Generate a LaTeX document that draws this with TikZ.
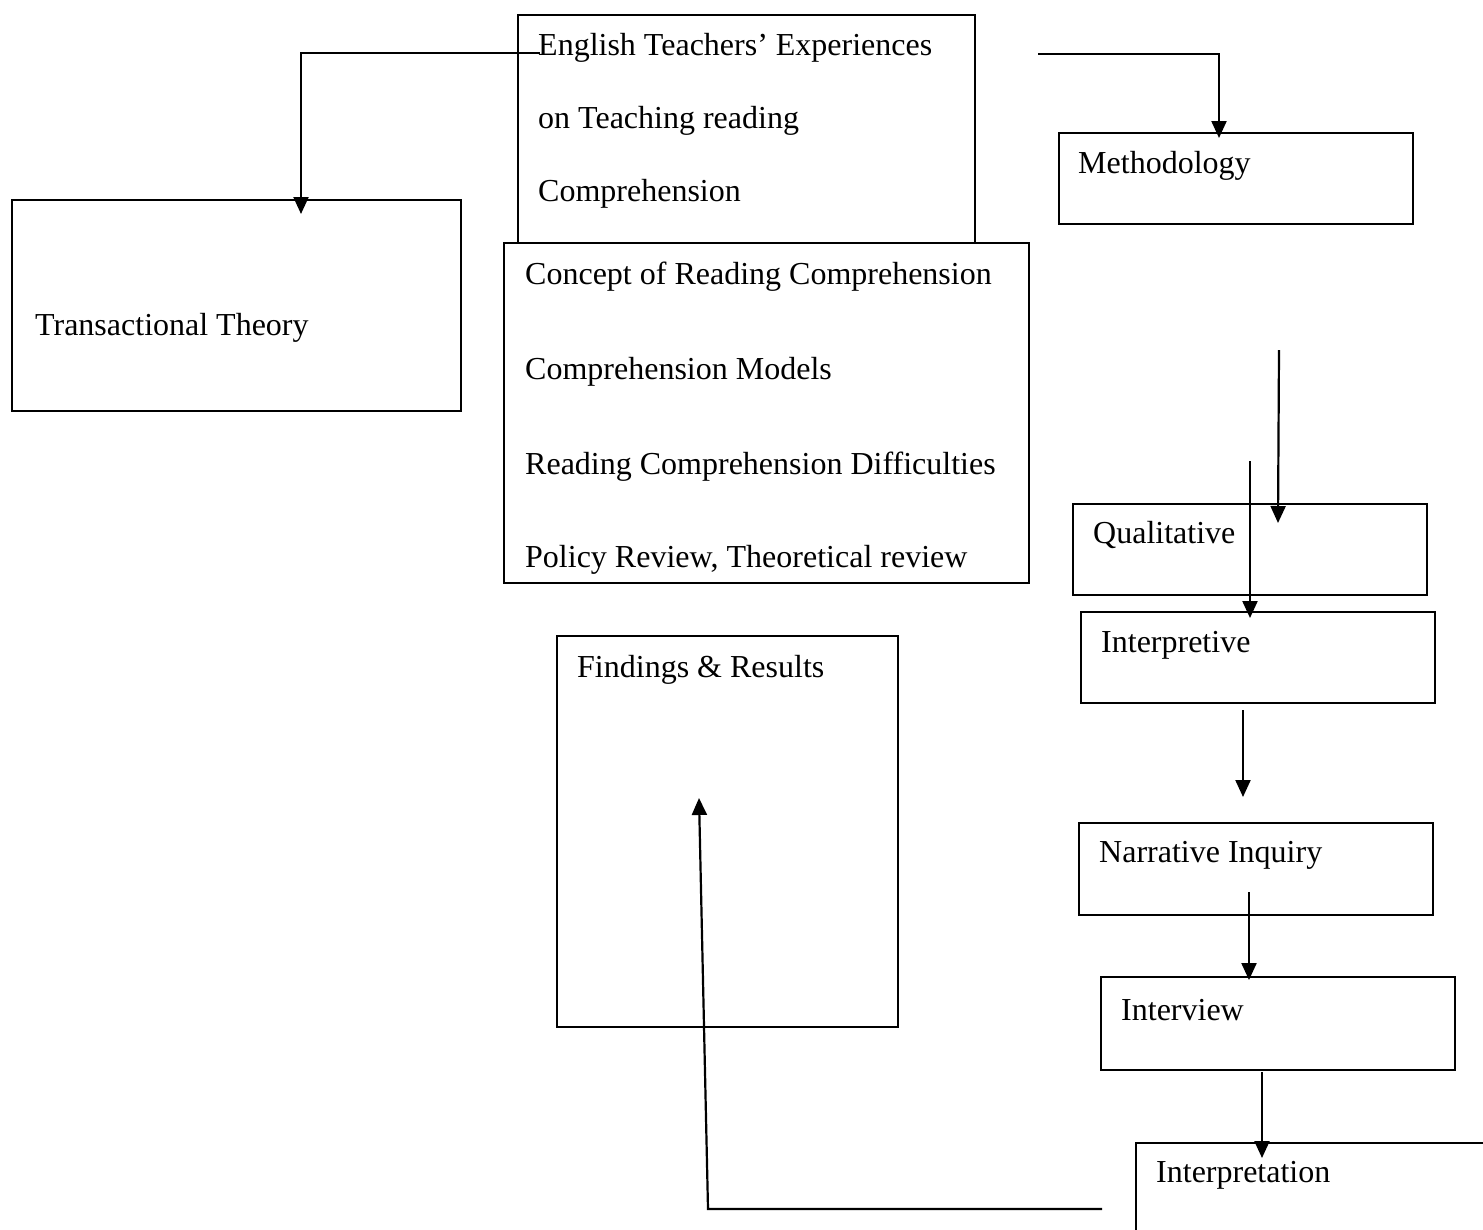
\documentclass[tikz,border=0pt]{standalone}
\usepackage{fontspec}
\setmainfont{Liberation Serif}
\usetikzlibrary{arrows.meta}

\begin{document}
\begin{tikzpicture}[x=1pt, y=-1pt,
    box/.style={draw, line width=2pt, rectangle, anchor=north west, inner sep=0pt},
    txt/.style={anchor=base west, inner sep=0pt, font=\fontsize{32}{38}\selectfont},
    arr/.style={line width=2.2pt, -{Triangle[length=17pt,width=15pt]}}]
			% Page frame
			\clip (0,0) rectangle (1483,1229);
			\useasboundingbox (0,0) rectangle (1483,1229);

			% Boxes
			\node[box, minimum width=457pt, minimum height=240pt] (topic) at (517,14) {};
			\node[box, minimum width=449pt, minimum height=211pt] (theory) at (11,199) {};
			\node[box, fill=white, minimum width=525pt, minimum height=340pt] (review) at (503,242) {};
			\node[box, minimum width=354pt, minimum height=91pt] (method) at (1058,132) {};
			\node[box, minimum width=354pt, minimum height=91pt] (qual) at (1072,503) {};
			\node[box, minimum width=354pt, minimum height=91pt] (interp) at (1080,611) {};
			\node[box, minimum width=354pt, minimum height=92pt] (narr) at (1078,822) {};
			\node[box, minimum width=354pt, minimum height=93pt] (intv) at (1100,976) {};
			\node[box, minimum width=400pt, minimum height=120pt] (interpn) at (1135,1142) {};
			\node[box, minimum width=341pt, minimum height=391pt] (find) at (556,635) {};

			% Texts
			\node[txt] (topic1) at (538,55) {English Teachers’ Experiences};
			\node[txt] (topic2) at (538,128) {on Teaching reading};
			\node[txt] (topic3) at (538,201) {Comprehension};
			\node[txt] (theorytxt) at (35,335) {Transactional Theory};
			\node[txt] (review1) at (525,284) {Concept of Reading Comprehension};
			\node[txt] (review2) at (525,379) {Comprehension Models};
			\node[txt] (review3) at (525,474) {Reading Comprehension Difficulties};
			\node[txt] (review4) at (525,567) {Policy Review, Theoretical review};
			\node[txt] (methtxt) at (1078,173) {Methodology};
			\node[txt] (qualtxt) at (1093,543) {Qualitative};
			\node[txt] (interptxt) at (1101,652) {Interpretive};
			\node[txt] (narrtxt) at (1099,862) {Narrative Inquiry};
			\node[txt] (intvtxt) at (1121,1020) {Interview};
			\node[txt] (interpntxt) at (1156,1182) {Interpretation};
			\node[txt] (findtxt) at (577,677) {Findings \& Results};

			% Connector ends
			\coordinate (theory-out) at (540,53);
			\coordinate (theory-in) at (301,214);
			\coordinate (method-out) at (1038,54);
			\coordinate (method-in) at (1219,138);
			\coordinate (qual-out) at (1279,350);
			\coordinate (qual-in) at (1278,523);
			\coordinate (interp-out) at (1250,461);
			\coordinate (interp-in) at (1250,618);
			\coordinate (narr-out) at (1243,710);
			\coordinate (narr-in) at (1243,797);
			\coordinate (intv-out) at (1249,892);
			\coordinate (intv-in) at (1249,980);
			\coordinate (interpn-out) at (1262,1072);
			\coordinate (interpn-in) at (1262,1158);
			\coordinate (find-out) at (1102,1209);
			\coordinate (find-turn) at (708,1209);
			\coordinate (find-in) at (699,798);

			% Arrows
			\draw[arr] (theory-out) -| (theory-in);
			\draw[arr] (method-out) -| (method-in);
			\draw[arr] (qual-out) -- (qual-in);
			\draw[arr] (interp-out) -- (interp-in);
			\draw[arr] (narr-out) -- (narr-in);
			\draw[arr] (intv-out) -- (intv-in);
			\draw[arr] (interpn-out) -- (interpn-in);
			\draw[arr] (find-out) -- (find-turn) -- (find-in);
		\end{tikzpicture}
\end{document}
